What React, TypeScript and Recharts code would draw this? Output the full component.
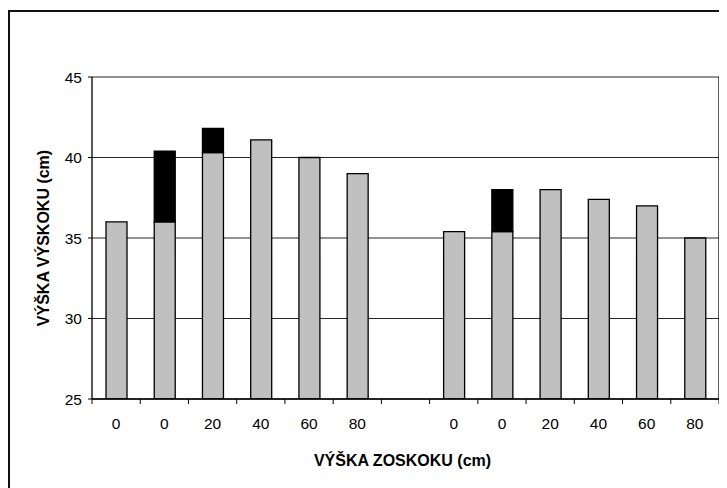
import { Bar, BarChart, CartesianGrid, Label, XAxis, YAxis } from "recharts";

// 13 slots: two groups of six bars with an empty slot between them
const slotIds = ["a0", "a0s", "a20", "a40", "a60", "a80", "gap", "b0", "b0s", "b20", "b40", "b60", "b80"];
const tickLabels = ["0", "0", "20", "40", "60", "80", "", "0", "0", "20", "40", "60", "80"];
const jumpHeights = [36.0, 36.0, 40.3, 41.1, 40.0, 39.0, null, 35.4, 35.4, 38.0, 37.4, 37.0, 35.0];
const gainHeights = [null, 4.4, 1.5, null, null, null, null, null, 2.6, null, null, null, null];
const yTicks = [25, 30, 35, 40, 45];

const data = slotIds.map((id, i) => ({
  id,
  label: tickLabels[i],
  jump: jumpHeights[i],
  gain: gainHeights[i],
}));

const FONT = '"Liberation Sans", Arial, sans-serif';
const CHART_W = 719;
const CHART_H = 478;
const Y_AXIS_W = 84;
const RIGHT_W = 8;
const X_AXIS_H = 60;
const X_TICK_MARGIN = 19;
const PLOT_W = CHART_W - Y_AXIS_W - RIGHT_W;

function SlotTick(props: any) {
  const { x, y, payload, index } = props;
  const half = payload?.offset || PLOT_W / slotIds.length / 2;
  const axisY = y - X_TICK_MARGIN;
  const isLast = index === slotIds.length - 1;

  return (
    <g>
      <line x1={x - half} x2={x - half} y1={axisY} y2={axisY + 5} stroke="#000" />
      {isLast && <line x1={x + half} x2={x + half} y1={axisY} y2={axisY + 5} stroke="#000" />}
      <text x={x} y={y} dy="0.71em" textAnchor="middle" fontSize={15.5} fill="#000" fontFamily={FONT}>
        {tickLabels[index]}
      </text>
    </g>
  );
}

export default function App() {
  return (
    <div style={{ position: "relative", width: CHART_W, height: CHART_H, marginTop: 2, fontFamily: FONT }}>
      <div
        style={{
          position: "absolute",
          left: 0,
          top: 0,
          width: CHART_W + 20,
          height: CHART_H + 20,
          borderLeft: "2px solid #111",
          borderTop: "2px solid #111",
          boxSizing: "border-box",
        }}
      />
      <div style={{ position: "absolute", left: 0, top: 0 }}>
        <BarChart
          width={CHART_W}
          height={CHART_H}
          data={data}
          margin={{ top: 67, right: 0, bottom: 29, left: 0 }}
          barSize={21}
        >
          <CartesianGrid vertical={false} stroke="#000" strokeOpacity={0.85} />

          <XAxis
            dataKey="id"
            height={X_AXIS_H}
            interval={0}
            tickSize={0}
            tickMargin={X_TICK_MARGIN}
            tickLine={false}
            axisLine={{ stroke: "#000", strokeWidth: 1.3 }}
            tick={<SlotTick />}
          >
            <Label
              content={({ viewBox }: any) => (
                <text
                  x={viewBox.x + viewBox.width / 2 - 3}
                  y={viewBox.y + 67}
                  textAnchor="middle"
                  fontSize={16}
                  fontWeight="bold"
                  fill="#000"
                  fontFamily={FONT}
                >
                  VÝŠKA ZOSKOKU (cm)
                </text>
              )}
            />
          </XAxis>

          <YAxis
            type="number"
            domain={[25, 45]}
            ticks={yTicks}
            allowDataOverflow
            width={Y_AXIS_W}
            tickSize={4}
            tickMargin={6}
            axisLine={{ stroke: "#000", strokeWidth: 1.3 }}
            tickLine={{ stroke: "#000" }}
            tick={{ fill: "#000", fontSize: 15.5, fontFamily: FONT }}
          >
            <Label
              content={({ viewBox }: any) => {
                const cx = 41;
                const cy = viewBox.y + viewBox.height / 2;
                return (
                  <text
                    x={cx}
                    y={cy}
                    transform={`rotate(-90, ${cx}, ${cy})`}
                    textAnchor="middle"
                    fontSize={16}
                    fontWeight="bold"
                    fill="#000"
                    fontFamily={FONT}
                  >
                    VÝŠKA VÝSKOKU (cm)
                  </text>
                );
              }}
            />
          </YAxis>

          <YAxis
            yAxisId="frame"
            orientation="right"
            domain={[25, 45]}
            width={RIGHT_W}
            tick={false}
            tickLine={false}
            axisLine={{ stroke: "#000", strokeWidth: 1.3 }}
          />

          <Bar dataKey="jump" stackId="h" fill="#c0c0c0" stroke="#000" strokeWidth={1.3} isAnimationActive={false} />
          <Bar dataKey="gain" stackId="h" fill="#000" stroke="#000" strokeWidth={1.3} isAnimationActive={false} />
        </BarChart>
      </div>
    </div>
  );
}
